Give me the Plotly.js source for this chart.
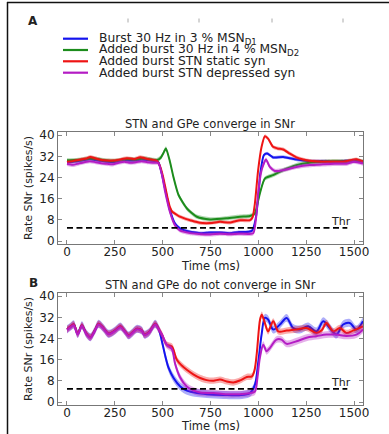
<!DOCTYPE html>
<html>
<head>
<meta charset="utf-8">
<script src="https://cdn.plot.ly/plotly-3.0.1.min.js"></script>
<style>html,body{margin:0;padding:0;background:#fff;}#chart{width:389px;height:434px;}</style>
</head>
<body>
<div id="chart"></div>
<script>
// ---------- data ----------
const seriesNames = [
  "Burst 30 Hz in 3 % MSN<sub>D1</sub>",
  "Added burst 30 Hz in 4 % MSN<sub>D2</sub>",
  "Added burst STN static syn",
  "Added burst STN depressed syn"
];
const xTicks = [0, 250, 500, 750, 1000, 1250, 1500];
const yTicks = [0, 8, 16, 24, 32, 40];
const thrTime = [0, 1465];
const thrRate = 5;

// Panel A
const tA_blue = [0,30,60,90,120,150,180,210,240,270,300,330,360,390,420,450,477,495,512,538,564,590,643,700,750,800,850,900,950,968,985,1000,1010,1029,1046,1077,1130,1200,1270,1340,1400,1460,1547];
const yA_blue = [29.8,30.0,30.2,30.6,31.0,30.6,30.3,30.0,29.8,30.2,30.6,30.4,30.5,30.8,30.6,30.3,29.9,25.5,20.0,11.7,6.7,4.8,3.5,3.0,3.2,3.2,3.0,3.4,3.5,4.0,8.0,17,25.5,32.5,33.1,31.6,31.8,30.8,30.2,30.2,30.0,30.3,30.0];

const tA_green = [0,40,80,120,160,200,240,280,320,360,400,440,470,490,503,517,538,557,583,627,679,748,835,904,956,982,995,1008,1034,1077,1130,1199,1268,1338,1400,1460,1512,1547];
const yA_green = [30.5,30.6,30.8,31.2,31.0,30.5,30.3,30.6,31.0,30.8,31.2,30.8,30.6,31.5,33.1,35.0,30.0,24.0,17.4,12.3,9.2,8.2,8.6,9.2,9.5,10.5,14,18,23.6,24.9,26.8,28.7,29.6,29.9,30.2,30.0,30.5,30.0];

const tA_red = [0,35,70,100,122,150,174,210,244,280,313,350,383,410,435,455,470,485,500,512,525,538,551,564,590,620,643,695,750,800,850,905,957,970,982,999,1017,1034,1051,1077,1100,1130,1165,1199,1235,1268,1338,1400,1443,1480,1512,1547];
const yA_red = [29.9,30.3,30.8,31.2,31.8,31.2,30.7,30.4,30.4,30.8,31.3,31.0,31.7,31.2,30.8,30.6,30.3,28.5,25.0,21.0,16.5,12.8,11.0,10.4,9.2,8.4,7.9,6.9,6.8,7.3,7.0,7.9,7.9,9.0,14.2,26.8,35.6,39.6,38.7,35.6,35.0,34.6,33.0,31.6,30.8,30.3,30.0,30.0,30.0,30.5,30.9,30.0];

const tA_purple = [0,30,60,90,120,150,180,210,240,270,300,330,360,390,420,450,477,495,512,538,564,590,643,700,750,800,850,900,950,974,990,999,1017,1040,1060,1086,1130,1199,1268,1338,1400,1460,1500,1547];
const yA_purple = [29.2,28.8,29.3,29.8,30.2,29.8,29.4,29.2,29.0,29.6,30.0,29.6,29.8,30.2,29.8,29.6,29.5,25.5,19.0,11.0,6.0,4.0,3.0,2.6,2.5,2.8,2.6,2.8,2.7,3.0,10,18,26.8,30.8,28.0,26.5,26.8,28.0,28.7,29.0,29.2,29.2,30.0,29.3];

// Panel B
const tB_blue = [0,18,35,56,78,100,122,145,165,190,218,250,279,300,322,345,366,392,404,430,461,479,496,514,531,557,592,627,679,731,818,900,956,982,1000,1017,1034,1051,1078,1113,1148,1182,1217,1260,1304,1339,1373,1408,1443,1478,1513,1547];
const yB_blue = [27.5,28.5,29.4,25.8,29.0,26.0,24.5,27.0,29.6,28.0,25.8,27.0,28.6,27.0,25.2,26.5,27.7,27.0,25.5,26.5,29.6,27.7,23,17.3,12.9,9.1,5.9,4.3,3.4,3.0,2.7,2.6,3.4,6.5,15.4,25.5,31.8,31.2,27.4,29.3,31.8,28,27.4,28.6,26.7,30.5,28,25.5,29.3,29.9,27.4,30.5];

const tB_red = [0,18,35,56,78,100,122,145,165,190,218,250,279,300,322,345,366,392,404,430,461,479,496,522,548,574,600,626,660,696,730,766,800,835,870,905,940,966,980,992,1009,1018,1034,1051,1078,1104,1148,1200,1252,1304,1330,1356,1391,1426,1460,1495,1547];
const yB_red = [27.5,28.5,29.4,25.8,29.0,26.0,24.5,27.0,29.6,28.0,25.8,27.0,28.6,27.0,25.2,26.5,27.7,27.0,25.5,26.5,29.6,27.7,25.5,21.7,21.0,16.0,13.8,12.2,10.5,9.1,8.3,8.1,8.5,7.8,7.4,8.2,9.5,9.7,12,18.5,31.2,33,29.9,26.7,30.5,26.7,27.0,27.4,28.0,26.1,27.0,29.9,26.7,28.0,26.1,27.0,28.6];

const tB_purple = [0,18,35,56,78,100,122,145,165,190,218,250,279,300,322,345,366,392,404,430,461,479,496,522,548,565,590,626,660,697,766,830,900,950,982,995,1008,1026,1043,1060,1095,1121,1148,1200,1252,1304,1356,1408,1460,1513,1547];
const yB_purple = [27.2,28.2,29.0,25.5,28.7,25.8,24.3,26.8,29.3,27.8,25.6,26.8,28.3,26.8,25.0,26.3,27.5,26.8,25.3,26.3,29.3,27.5,25.5,21.5,20.0,14.5,9.5,5.9,4.4,3.6,3.4,3.0,3.0,3.3,4.0,9,16.7,21.7,19.2,20.4,23.6,23.6,22.0,23.0,24.3,24.9,25.5,25.5,25.0,25.5,27.4];

// band half-widths (spread around each mean trace)
const bandA = [0.6, 0.8, 0.7, 0.8];
const bandB = [1.5, 1.2, 1.3];

// ---------- styling ----------
const colors = ['#1414ee', '#1c8c1c', '#ee1414', '#b41cc4'];
const fills  = ['rgba(20,20,238,0.35)', 'rgba(28,140,28,0.35)', 'rgba(238,20,20,0.35)', 'rgba(180,28,196,0.35)'];

const traces = [];
function addSeries(t, y, band, idx, xa, ya, smooth) {
  const lo = y.map(v => v - band);
  const hi = y.map(v => v + band);
  const ln = {shape: 'spline', smoothing: smooth};
  traces.push({x: t, y: lo, xaxis: xa, yaxis: ya, mode: 'lines', line: Object.assign({width: 0, color: colors[idx]}, ln), hoverinfo: 'skip', showlegend: false});
  traces.push({x: t, y: hi, xaxis: xa, yaxis: ya, mode: 'lines', fill: 'tonexty', fillcolor: fills[idx], line: Object.assign({width: 0, color: colors[idx]}, ln), hoverinfo: 'skip', showlegend: false});
  traces.push({x: t, y: y, xaxis: xa, yaxis: ya, mode: 'lines', name: seriesNames[idx], line: Object.assign({width: 2, color: colors[idx]}, ln), showlegend: false});
}
addSeries(tA_blue, yA_blue, bandA[0], 0, 'x', 'y', 0.6);
addSeries(tA_green, yA_green, bandA[1], 1, 'x', 'y', 0.6);
addSeries(tA_red, yA_red, bandA[2], 2, 'x', 'y', 0.6);
addSeries(tA_purple, yA_purple, bandA[3], 3, 'x', 'y', 0.6);
addSeries(tB_blue, yB_blue, bandB[0], 0, 'x2', 'y2', 0.9);
addSeries(tB_red, yB_red, bandB[1], 2, 'x2', 'y2', 0.9);
addSeries(tB_purple, yB_purple, bandB[2], 3, 'x2', 'y2', 0.9);

['x', 'x2'].forEach((xa, i) => {
  traces.push({x: thrTime, y: [thrRate, thrRate], xaxis: xa, yaxis: i ? 'y2' : 'y', mode: 'lines',
    line: {color: '#000', width: 1.6, dash: '6px,3.5px'}, showlegend: false, hoverinfo: 'skip'});
});

const W = 389, H = 434;
const px = v => v / W, py = v => 1 - v / H;
const FONT = 'DejaVu Sans, sans-serif';

function xaxisDef(anchor) {
  return {domain: [px(58), px(363)], anchor: anchor, range: [-47, 1547], tickvals: xTicks,
    ticks: 'inside', ticklen: 4, tickcolor: '#888', mirror: 'ticks', showline: true, linecolor: '#777', linewidth: 1,
    ticklabelstandoff: -3,
    showgrid: false, zeroline: false, tickfont: {size: 12, color: '#222', family: FONT}};
}
function yaxisDef(anchor, top, bottom) {
  return {domain: [py(bottom), py(top)], anchor: anchor, range: [-1.1, 41.2], tickvals: yTicks,
    ticks: 'inside', ticklen: 4, tickcolor: '#888', mirror: 'ticks', showline: true, linecolor: '#777', linewidth: 1,
    showgrid: false, zeroline: false, tickfont: {size: 12, color: '#222', family: FONT},
    title: {text: 'Rate SNr (spikes/s)', font: {size: 11, color: '#222', family: FONT}, standoff: 4}};
}

function paperText(text, x, y, size, xanchor) {
  return {text: text, x: px(x), y: py(y), xref: 'paper', yref: 'paper', xanchor: xanchor || 'center', yanchor: 'middle',
    showarrow: false, font: {size: size, family: FONT, color: '#222'}};
}
const annotations = [
  paperText('<b>A</b>', 33, 21, 12),
  paperText('<b>B</b>', 33, 283, 12),
  paperText('STN and GPe converge in SNr', 210.5, 124, 11.5),
  paperText('STN and GPe do not converge in SNr', 210.5, 285, 11.5),
  paperText('Time (ms)', 210.5, 265.5, 11.5),
  paperText('Time (ms)', 210.5, 425.5, 11.5),
  {text: 'Thr', x: 1432, y: 7.4, xref: 'x', yref: 'y', xanchor: 'center', yanchor: 'middle', showarrow: false, font: {size: 11, family: FONT, color: '#222'}},
  {text: 'Thr', x: 1432, y: 7.4, xref: 'x2', yref: 'y2', xanchor: 'center', yanchor: 'middle', showarrow: false, font: {size: 11, family: FONT, color: '#222'}}
];
const shapes = [
  {type: 'line', xref: 'paper', yref: 'paper', x0: px(7), x1: 1, y0: py(2.5), y1: py(2.5), line: {color: '#111', width: 1.5}},
  {type: 'line', xref: 'paper', yref: 'paper', x0: px(7.5), x1: px(7.5), y0: py(2), y1: 0, line: {color: '#111', width: 1.5}}
];
// tiny stray marks at top of legend area
[128, 199, 272, 343].forEach(x => shapes.push({type: 'line', xref: 'paper', yref: 'paper', x0: px(x), x1: px(x), y0: py(18.5), y1: py(22.5), line: {color: '#aaa', width: 1}}));
// manual legend (rows are tighter than Plotly's legend allows)
const legendRows = [38.7, 50, 61.3, 72.7];
seriesNames.forEach((name, i) => {
  shapes.push({type: 'line', xref: 'paper', yref: 'paper', x0: px(63), x1: px(88), y0: py(legendRows[i]), y1: py(legendRows[i]), line: {color: colors[i], width: 2.2}});
  annotations.push(paperText(name, 97, legendRows[i], 12.3, 'left'));
});

const layout = {
  width: W, height: H, margin: {l: 0, r: 0, t: 0, b: 0},
  paper_bgcolor: '#fff', plot_bgcolor: '#fff', showlegend: false,
  xaxis: xaxisDef('y'), yaxis: yaxisDef('x', 132, 244),
  xaxis2: xaxisDef('y2'), yaxis2: yaxisDef('x2', 293, 405),
  annotations: annotations, shapes: shapes
};
Plotly.newPlot('chart', traces, layout, {staticPlot: true, displayModeBar: false});
</script>
</body>
</html>
